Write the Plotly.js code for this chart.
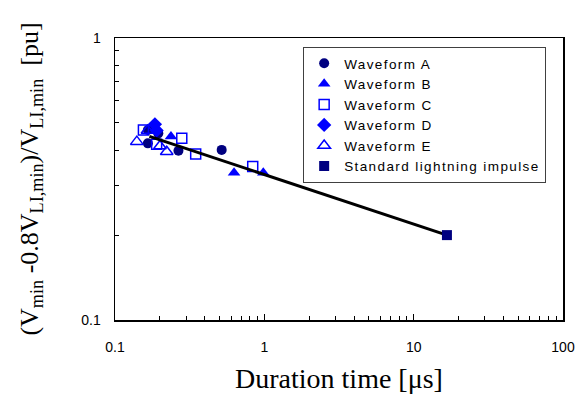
<!DOCTYPE html>
<html>
<head>
<meta charset="utf-8">
<script src="https://cdn.plot.ly/plotly-3.0.1.min.js"></script>
<style>
html,body{margin:0;padding:0;background:#fff;}
.legendtext{letter-spacing:1.4px;}
</style>
</head>
<body>
<div id="chart" style="width:579px;height:396px;"></div>
<script>
// Waveform A (filled circles)
const aX = [0.166, 0.195, 0.166, 0.266, 0.518];
const aY = [0.472, 0.459, 0.423, 0.398, 0.401];
// Waveform B (filled triangles)
const bX = [0.237, 0.627, 0.984];
const bY = [0.447, 0.333, 0.333];
// Waveform C (open squares)
const cX = [0.155, 0.280, 0.347, 0.836, 0.190];
const cY = [0.472, 0.441, 0.388, 0.350, 0.420];
// Waveform D (filled diamonds)
const dX = [0.185, 0.190];
const dY = [0.494, 0.470];
// Waveform E (open triangles)
const eX = [0.140, 0.200, 0.222, 0.165];
const eY = [0.429, 0.414, 0.395, 0.470];
// Standard lightning impulse
const sX = [16.7];
const sY = [0.200];
// Fitted line
const fitX = [0.17, 16.7];
const fitY = [0.448, 0.200];

const names = ["Waveform A", "Waveform B", "Waveform C", "Waveform D", "Waveform E", "Standard lightning impulse"];
const navy = "#000080", blue = "#0000FF";

const traces = [
  {x: aX, y: aY, name: names[0], mode: "markers", type: "scatter",
   marker: {symbol: "circle", size: 10, color: navy}},
  {x: bX, y: bY, name: names[1], mode: "markers", type: "scatter",
   marker: {symbol: "triangle-up", size: 11, color: blue}},
  {x: cX, y: cY, name: names[2], mode: "markers", type: "scatter",
   marker: {symbol: "square-open", size: 10, color: blue, line: {width: 1.5}}},
  {x: dX, y: dY, name: names[3], mode: "markers", type: "scatter",
   marker: {symbol: "diamond", size: 11, color: blue}},
  {x: eX, y: eY, name: names[4], mode: "markers", type: "scatter",
   marker: {symbol: "triangle-up-open", size: 11, color: blue, line: {width: 1.5}}},
  {x: fitX, y: fitY, mode: "lines", type: "scatter", showlegend: false,
   line: {color: "#000", width: 3}},
  {x: sX, y: sY, name: names[5], mode: "markers", type: "scatter",
   marker: {symbol: "square", size: 10, color: navy}}
];

const tickFont = {family: "Arial, Liberation Sans, sans-serif", size: 14, color: "#000"};
const layout = {
  width: 579, height: 396,
  margin: {l: 115, r: 16, t: 38, b: 76},
  paper_bgcolor: "#fff", plot_bgcolor: "#fff",
  showlegend: true,
  legend: {
    x: 0.42, y: 0.968, xanchor: "left", yanchor: "top",
    bgcolor: "#fff", bordercolor: "#404040", borderwidth: 1,
    font: {family: "Arial, Liberation Sans, sans-serif", size: 13.5, color: "#000"},
    itemwidth: 30, traceorder: "normal"
  },
  xaxis: {
    type: "log", range: [-1, 2], dtick: 1,
    tickvals: [0.1, 1, 10, 100], ticktext: ["0.1", "1", "10", "100"],
    ticks: "inside", ticklen: 6, tickcolor: "#000",
    showline: true, linecolor: "#000", linewidth: 1.5, mirror: true,
    showgrid: false, zeroline: false,
    tickfont: tickFont, ticklabelstandoff: 14,
    minor: {ticks: "inside", ticklen: 4, tickcolor: "#000",
            tickvals: [0.2,0.3,0.4,0.5,0.6,0.7,0.8,0.9,2,3,4,5,6,7,8,9,20,30,40,50,60,70,80,90], showgrid: false},
    title: {text: "Duration time [μs]", font: {family: "Times New Roman, Liberation Serif, serif", size: 28, color: "#000"}, standoff: 14}
  },
  yaxis: {
    type: "log", range: [-1, 0],
    tickvals: [0.1, 1], ticktext: ["0.1", "1"],
    ticks: "inside", ticklen: 6, tickcolor: "#000",
    showline: true, linecolor: "#000", linewidth: 1.5, mirror: true,
    showgrid: false, zeroline: false,
    tickfont: tickFont, ticklabelstandoff: 10,
    minor: {ticks: "inside", ticklen: 4, tickcolor: "#000",
            tickvals: [0.2,0.3,0.4,0.5,0.6,0.7,0.8,0.9], showgrid: false},
    title: {text: "(V<sub>min</sub> -0.8V<sub>LI,min</sub>)/V<sub>LI,min</sub>  [pu]", font: {family: "Times New Roman, Liberation Serif, serif", size: 26, color: "#000"}, standoff: 35}
  }
};

Plotly.newPlot("chart", traces, layout, {displayModeBar: false, staticPlot: true});
</script>
</body>
</html>
